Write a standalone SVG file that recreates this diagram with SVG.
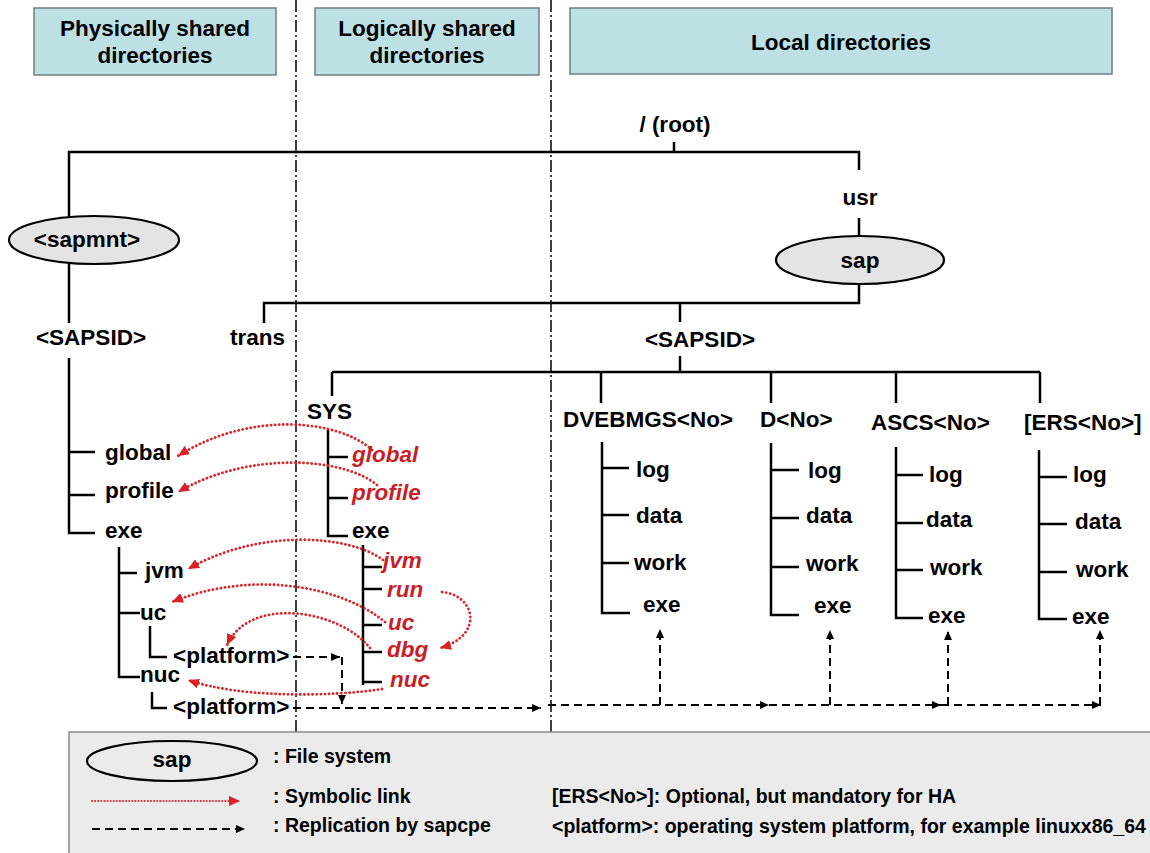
<svg xmlns="http://www.w3.org/2000/svg" width="1150" height="853" viewBox="0 0 1150 853">
<style>
text{font-family:"Liberation Sans",Arial,sans-serif;font-weight:bold;fill:#000}
.t{font-size:22.5px}
.m{text-anchor:middle}
.r{font-size:22.5px;font-style:italic;fill:#c81e27}
.h{font-size:22.5px;text-anchor:middle}
.lg{font-size:19.5px}
.tree{fill:none;stroke:#000;stroke-width:2.5}
.div{fill:none;stroke:#000;stroke-width:1.5;stroke-dasharray:12 3 2 3}
.hdr{fill:#bde0e4;stroke:#6f7f80;stroke-width:1.5}
.fs{fill:#e4e4e4;stroke:#000;stroke-width:2.2}
.sym{fill:none;stroke:#d8262c;stroke-width:2.8;stroke-dasharray:0.1 4;stroke-linecap:round}
.rep{fill:none;stroke:#000;stroke-width:2;stroke-dasharray:8 5}
</style>
<defs>
<marker id="ra" markerUnits="userSpaceOnUse" markerWidth="12" markerHeight="10" refX="11" refY="5" orient="auto"><path d="M0,0 L11,5 L0,10 z" fill="#dd1f26"/></marker>
<marker id="ba" markerUnits="userSpaceOnUse" markerWidth="10" markerHeight="8" refX="9" refY="4" orient="auto"><path d="M0,0 L9,4 L0,8 z" fill="#000"/></marker>
</defs>
<rect width="1150" height="853" fill="#fff"/>

<g id="headers">
<g id="hdr-physical"><rect class="hdr" x="34" y="8" width="242" height="67"/><text class="h" x="155" y="36">Physically shared</text><text class="h" x="155" y="63">directories</text></g>
<g id="hdr-logical"><rect class="hdr" x="315" y="8" width="224" height="67"/><text class="h" x="427" y="36">Logically shared</text><text class="h" x="427" y="63">directories</text></g>
<g id="hdr-local"><rect class="hdr" x="570" y="8" width="542" height="66"/><text class="h" x="841" y="50">Local directories</text></g>
</g>

<g id="dividers">
<path class="div" d="M296,0 V732"/>
<path class="div" d="M551,0 V732"/>
</g>

<g id="connectors">
<g id="tree-lines" class="tree">
<path d="M69,216 V152 H859 V170"/>
<path d="M674,142 V152"/>
<path d="M859,218 V236"/>
<path d="M859,283 V303 H264 V323"/>
<path d="M680,303 V322"/>
<path d="M69,264 V323"/>
<path d="M69,358 V533 H95 M69,452 H95 M69,495 H95"/>
<path d="M119,547 V677 H140 M119,573 H137 M119,613 H140"/>
<path d="M150,626 V657 H167"/>
<path d="M152,692 V708 H167"/>
<path d="M680,356 V372"/>
<path d="M332,372 H1040 M332,372 V396 M601,372 V403 M771,372 V403 M896,372 V403 M1040,372 V403"/>
<path d="M328,430 V536 H348 M328,457 H348 M328,498 H348"/>
<path d="M363,545 V685 M363,567 H382 M363,589 H382 M363,625 H382 M363,652 H382 M363,682 H382"/>
<path d="M602,442 V613 H630 M602,468 H629 M602,515 H629 M602,563 H629"/>
<path d="M771,443 V615 H799 M771,470 H799 M771,518 H799 M771,567 H799"/>
<path d="M896,447 V618 H923 M896,475 H923 M896,523 H923 M896,570 H923"/>
<path d="M1039,450 V619 H1067 M1039,477 H1067 M1039,524 H1067 M1039,572 H1067"/>
</g>
<g id="symlinks">
<path class="sym" d="M372,450 C340,420 250,410 178,456" marker-end="url(#ra)"/>
<path class="sym" d="M377,485 C345,458 250,450 178,492" marker-end="url(#ra)"/>
<path class="sym" d="M383,560 C350,535 260,528 188,569" marker-end="url(#ra)"/>
<path class="sym" d="M385,622 C340,585 250,570 172,602" marker-end="url(#ra)"/>
<path class="sym" d="M370,648 C340,610 250,595 227,645" marker-end="url(#ra)"/>
<path class="sym" d="M382,689 C330,697 240,698 188,680" marker-end="url(#ra)"/>
<path class="sym" d="M442,592 C475,595 485,635 440,648" marker-end="url(#ra)"/>
</g>
<g id="replication">
<path class="rep" d="M293,657 H340" marker-end="url(#ba)"/>
<path class="rep" d="M342,657 V704" marker-end="url(#ba)"/>
<path class="rep" d="M293,708 H541" marker-end="url(#ba)"/>
<path class="rep" d="M548,705 H769" marker-end="url(#ba)"/>
<path class="rep" d="M769,705 H941" marker-end="url(#ba)"/>
<path class="rep" d="M941,705 H1101" marker-end="url(#ba)"/>
<path class="rep" d="M660,705 V629" marker-end="url(#ba)"/>
<path class="rep" d="M830,705 V630" marker-end="url(#ba)"/>
<path class="rep" d="M948,705 V631" marker-end="url(#ba)"/>
<path class="rep" d="M1100,705 V630" marker-end="url(#ba)"/>
</g>
</g>

<g id="n-root"><text class="t m" x="675" y="132">/ (root)</text></g>
<g id="n-usr"><text class="t m" x="860" y="205">usr</text></g>
<g id="n-sap"><ellipse class="fs" cx="860" cy="260" rx="84" ry="24"/><text class="t m" x="860" y="268">sap</text></g>
<g id="n-sapmnt"><ellipse class="fs" cx="94" cy="240" rx="85" ry="24"/><text class="t m" x="87" y="247">&lt;sapmnt&gt;</text></g>
<g id="n-sapsid-left"><text class="t m" x="91" y="345">&lt;SAPSID&gt;</text></g>
<g id="n-trans"><text class="t" x="230" y="345">trans</text></g>
<g id="n-sapsid-local"><text class="t m" x="700" y="347">&lt;SAPSID&gt;</text></g>
<g id="n-global"><text class="t" x="105" y="460">global</text></g>
<g id="n-profile"><text class="t" x="105" y="498">profile</text></g>
<g id="n-exe"><text class="t" x="105" y="538">exe</text></g>
<g id="n-jvm"><text class="t" x="145" y="578">jvm</text></g>
<g id="n-uc"><text class="t" x="140" y="620">uc</text></g>
<g id="n-uc-platform"><text class="t" x="173" y="663">&lt;platform&gt;</text></g>
<g id="n-nuc"><text class="t" x="140" y="682">nuc</text></g>
<g id="n-nuc-platform"><text class="t" x="173" y="714">&lt;platform&gt;</text></g>

<g id="n-sys"><text class="t" x="307" y="419">SYS</text></g>
<g id="n-sys-global"><text class="r" x="352" y="462">global</text></g>
<g id="n-sys-profile"><text class="r" x="352" y="500">profile</text></g>
<g id="n-sys-exe"><text class="t" x="352" y="538">exe</text></g>
<g id="n-sys-jvm"><text class="r" x="383" y="568">jvm</text></g>
<g id="n-sys-run"><text class="r" x="387" y="597">run</text></g>
<g id="n-sys-uc"><text class="r" x="388" y="630">uc</text></g>
<g id="n-sys-dbg"><text class="r" x="387" y="657">dbg</text></g>
<g id="n-sys-nuc"><text class="r" x="390" y="687">nuc</text></g>

<g id="n-dvebmgs">
<text class="t" x="563" y="427">DVEBMGS&lt;No&gt;</text>
<text class="t" x="636" y="477">log</text><text class="t" x="636" y="523">data</text><text class="t" x="634" y="570">work</text><text class="t" x="643" y="612">exe</text>
</g>
<g id="n-d">
<text class="t" x="760" y="427">D&lt;No&gt;</text>
<text class="t" x="808" y="478">log</text><text class="t" x="806" y="523">data</text><text class="t" x="806" y="571">work</text><text class="t" x="814" y="613">exe</text>
</g>
<g id="n-ascs">
<text class="t" x="871" y="430">ASCS&lt;No&gt;</text>
<text class="t" x="929" y="482">log</text><text class="t" x="926" y="527">data</text><text class="t" x="930" y="575">work</text><text class="t" x="928" y="623">exe</text>
</g>
<g id="n-ers">
<text class="t" x="1024" y="430">[ERS&lt;No&gt;]</text>
<text class="t" x="1073" y="482">log</text><text class="t" x="1075" y="529">data</text><text class="t" x="1076" y="577">work</text><text class="t" x="1072" y="624">exe</text>
</g>

<g id="legend">
<rect x="69" y="732" width="1095" height="130" fill="#ebebeb" stroke="#8a8a8a" stroke-width="1.5"/>
<ellipse cx="172" cy="761" rx="85" ry="20" fill="none" stroke="#000" stroke-width="2.2"/>
<text class="t m" x="172" y="767">sap</text>
<text class="lg" x="273" y="763">: File system</text>
<path class="sym" d="M92,801 H240" marker-end="url(#ra)" style="stroke-width:2;stroke-dasharray:0.1 3"/>
<text class="lg" x="273" y="803">: Symbolic link</text>
<path class="rep" d="M92,829 H245" marker-end="url(#ba)"/>
<text class="lg" x="273" y="832">: Replication by sapcpe</text>
<text class="lg" x="552" y="803">[ERS&lt;No&gt;]: Optional, but mandatory for HA</text>
<text class="lg" x="552" y="833">&lt;platform&gt;: operating system platform, for example linuxx86_64</text>
</g>
</svg>
